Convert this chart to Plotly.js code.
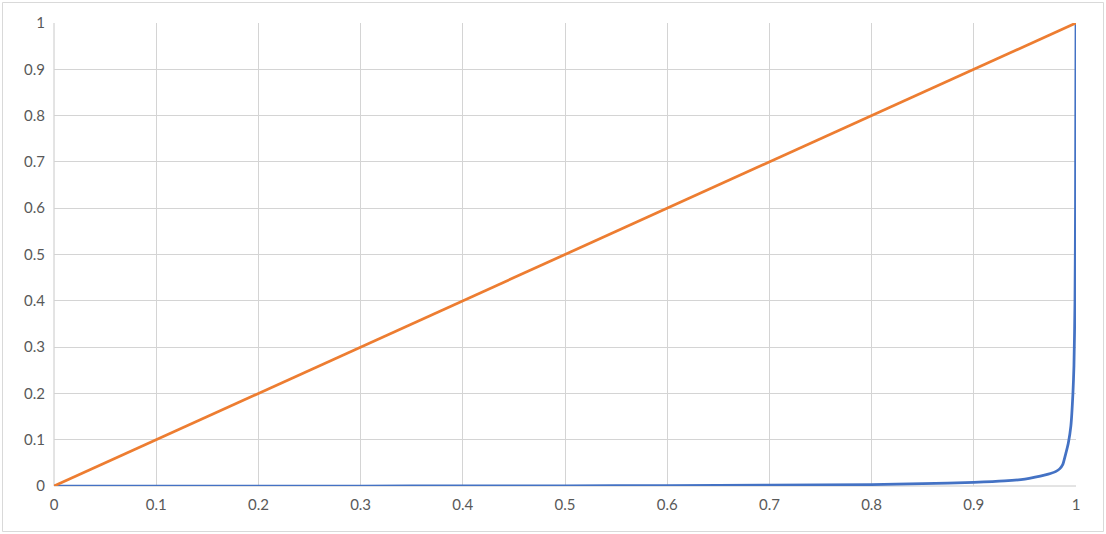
<!DOCTYPE html>
<html><head><meta charset="utf-8">
<script src="https://cdn.plot.ly/plotly-3.0.1.min.js"></script>
<style>html,body{margin:0;padding:0;background:#fff}</style>
</head><body>
<div id="chart" style="width:1106px;height:534px"></div>
<script>
const curveX = [0, 0.1, 0.2, 0.3, 0.4, 0.5, 0.6, 0.7, 0.8, 0.85, 0.9, 0.93, 0.95, 0.96, 0.97, 0.975, 0.98, 0.984, 0.987, 0.99, 0.9925, 0.995, 0.997, 0.998, 0.999, 0.9995, 1.0];
const curveY = [0, 0, 0, 0, 0.0002, 0.0005, 0.001, 0.002, 0.003, 0.005, 0.008, 0.011, 0.015, 0.019, 0.024, 0.027, 0.031, 0.037, 0.046, 0.07, 0.093, 0.13, 0.2, 0.26, 0.4, 0.6, 1.0];
const diagX = [0, 1];
const diagY = [0, 1];
const tickVals = [0, 0.1, 0.2, 0.3, 0.4, 0.5, 0.6, 0.7, 0.8, 0.9, 1];
const tickText = ['0', '0.1', '0.2', '0.3', '0.4', '0.5', '0.6', '0.7', '0.8', '0.9', '1'];

const W = 1106, H = 534, L = 54, R = 30, T = 23, B = 48;
const pw = W - L - R, ph = H - T - B;
const px = v => (v - L) / pw;
const py = v => (H - B - v) / ph;

const traces = [
  {x: curveX, y: curveY, mode: 'lines', line: {color: '#4472C4', width: 2.75, shape: 'spline', smoothing: 0.6}, hoverinfo: 'x+y'},
  {x: diagX, y: diagY, mode: 'lines', line: {color: '#ED7D31', width: 2.75}, hoverinfo: 'x+y'}
];
const axisCommon = {
  range: [0, 1], tickvals: tickVals, ticktext: tickText,
  showgrid: true, gridcolor: '#d4d4d4', gridwidth: 1,
  zeroline: false, showline: false, ticks: '',
  tickfont: {family: 'Lato, "Open Sans", sans-serif', size: 15, color: '#595959'},
  fixedrange: true
};
const layout = {
  width: W, height: H,
  margin: {l: L, r: R, t: T, b: B},
  paper_bgcolor: '#ffffff', plot_bgcolor: '#ffffff',
  showlegend: false,
  xaxis: Object.assign({}, axisCommon, {ticklabelstandoff: 8}),
  yaxis: Object.assign({}, axisCommon, {ticklabelstandoff: 8}),
  shapes: [
    {type: 'rect', xref: 'paper', yref: 'paper', x0: px(2.5), x1: px(1103.5), y0: py(531.5), y1: py(2.5),
     line: {color: '#d9d9d9', width: 1}, layer: 'below'},
    {type: 'line', xref: 'paper', yref: 'paper', x0: 0, x1: 1, y0: 0, y1: 0, line: {color: '#c8c8c8', width: 1}, layer: 'below'},
    {type: 'line', xref: 'paper', yref: 'paper', x0: 0, x1: 0, y0: 0, y1: 1, line: {color: '#c8c8c8', width: 1}, layer: 'below'}
  ]
};
Plotly.newPlot('chart', traces, layout, {displayModeBar: false, staticPlot: true});
</script>
</body></html>
